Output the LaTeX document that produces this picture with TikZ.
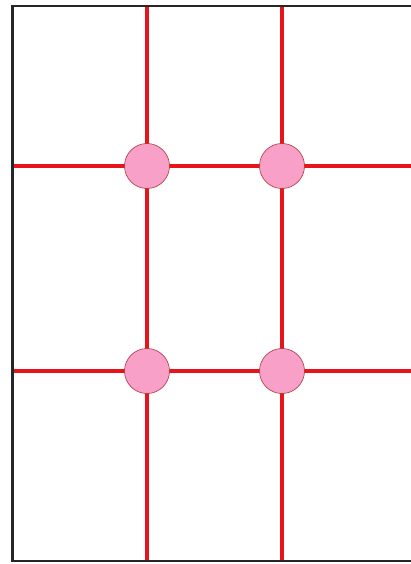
\documentclass[tikz,border=0pt]{standalone}
\begin{document}
\begin{tikzpicture}[x=1pt,y=-1pt,
  frame/.style={draw=black!85,line width=2.2pt},
  gridline/.style={draw={rgb,255:red,232;green,20;blue,28},line width=3.6pt},
  dot/.style={circle,draw=red!60!black!80,line width=0.6pt,fill={rgb,255:red,249;green,160;blue,200},minimum size=45pt,inner sep=0pt}]
\useasboundingbox (0,0) rectangle (411,564);
\fill[white] (0,0) rectangle (411,564);
% grid line ends
\coordinate (v1t) at (147,6); \coordinate (v1b) at (147,561);
\coordinate (v2t) at (282,6); \coordinate (v2b) at (282,561);
\coordinate (h1l) at (12.5,166); \coordinate (h1r) at (411,166);
\coordinate (h2l) at (12.5,371); \coordinate (h2r) at (411,371);
\draw[gridline] (v1t) -- (v1b);
\draw[gridline] (v2t) -- (v2b);
\draw[gridline] (h1l) -- (h1r);
\draw[gridline] (h2l) -- (h2r);
% frame
\coordinate (ftr) at (411,6); \coordinate (ftl) at (12.5,6);
\coordinate (fbl) at (12.5,561); \coordinate (fbr) at (411,561);
\draw[frame] (ftr) -- (ftl) -- (fbl) -- (fbr);
% intersection dots
\node[dot] (a) at (147,166) {};
\node[dot] (b) at (282,166) {};
\node[dot] (c) at (147,371) {};
\node[dot] (d) at (282,371) {};
\end{tikzpicture}
\end{document}
